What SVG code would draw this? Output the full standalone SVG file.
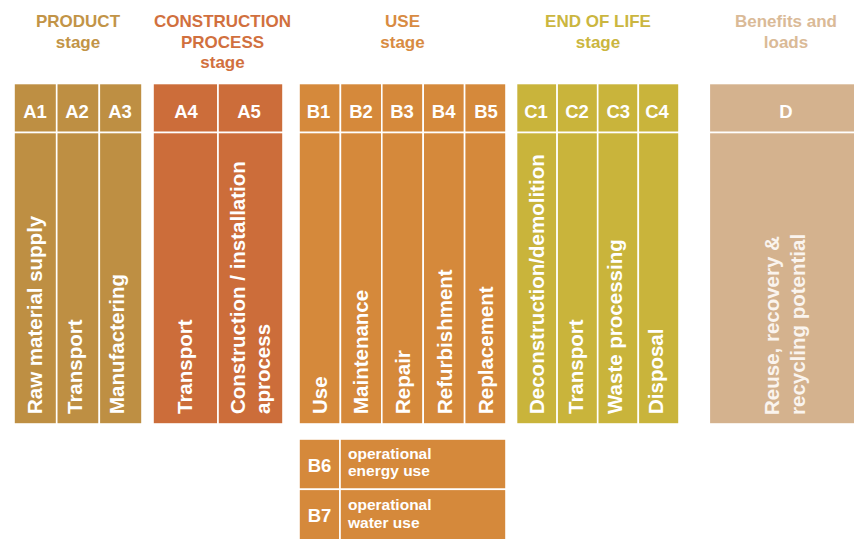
<svg xmlns="http://www.w3.org/2000/svg" width="854" height="539" viewBox="0 0 854 539">
<style>
text{font-family:"Liberation Sans",Arial,sans-serif;font-weight:bold}
.c{stroke:#fff;stroke-width:1.6}
.pa{fill:#BE8F43}.pb{fill:#CC6D3A}.pc{fill:#D5893B}.pd{fill:#C9B43B}.pe{fill:#D4B28E}
.t{font-size:17px;text-anchor:middle}
.h{font-size:18.5px;fill:#fff;text-anchor:middle}
.v{font-size:20.5px;fill:#fff}
.s{font-size:15.5px;fill:#fff}
</style>
<rect width="854" height="539" fill="#fff"/>
<g id="titles">
<text class="t" x="78" y="27" fill="#C29447">PRODUCT<tspan x="78" y="47.5">stage</tspan></text>
<text class="t" x="222.5" y="27" fill="#D1703E">CONSTRUCTION<tspan x="222.5" y="47.5">PROCESS</tspan><tspan x="222.5" y="68">stage</tspan></text>
<text class="t" x="402.5" y="27" fill="#D88B42">USE<tspan x="402.5" y="47.5">stage</tspan></text>
<text class="t" x="598" y="27" fill="#CBB63F">END OF LIFE<tspan x="598" y="47.5">stage</tspan></text>
<text class="t" x="786" y="27" fill="#DABA97">Benefits and<tspan x="786" y="47.5">loads</tspan></text>
</g>
<g id="A1"><rect class="c pa" x="14" y="83.5" width="42.7" height="49"/><rect class="c pa" x="14" y="132.5" width="42.7" height="291.5"/>
<text class="h" x="35" y="117.5">A1</text><text class="v" transform="translate(42.3,414) rotate(-90)">Raw material supply</text></g>
<g id="A2"><rect class="c pa" x="56.7" y="83.5" width="42.6" height="49"/><rect class="c pa" x="56.7" y="132.5" width="42.6" height="291.5"/>
<text class="h" x="77" y="117.5">A2</text><text class="v" transform="translate(81.7,414) rotate(-90)">Transport</text></g>
<g id="A3"><rect class="c pa" x="99.3" y="83.5" width="42.7" height="49"/><rect class="c pa" x="99.3" y="132.5" width="42.7" height="291.5"/>
<text class="h" x="120" y="117.5">A3</text><text class="v" transform="translate(124.3,414) rotate(-90)">Manufactering</text></g>
<g id="A4"><rect class="c pb" x="153" y="83.5" width="65" height="49"/><rect class="c pb" x="153" y="132.5" width="65" height="291.5"/>
<text class="h" x="186" y="117.5">A4</text><text class="v" transform="translate(191.7,414) rotate(-90)">Transport</text></g>
<g id="A5"><rect class="c pb" x="218" y="83.5" width="65" height="49"/><rect class="c pb" x="218" y="132.5" width="65" height="291.5"/>
<text class="h" x="249" y="117.5">A5</text><text class="v" transform="translate(245,414) rotate(-90)">Construction / installation<tspan x="0" dy="25">aprocess</tspan></text></g>
<g id="B1"><rect class="c pc" x="299" y="83.5" width="41.4" height="49"/><rect class="c pc" x="299" y="132.5" width="41.4" height="291.5"/>
<text class="h" x="318.5" y="117.5">B1</text><text class="v" transform="translate(326.7,414) rotate(-90)">Use</text></g>
<g id="B2"><rect class="c pc" x="340.4" y="83.5" width="41.4" height="49"/><rect class="c pc" x="340.4" y="132.5" width="41.4" height="291.5"/>
<text class="h" x="361" y="117.5">B2</text><text class="v" transform="translate(368.3,414) rotate(-90)">Maintenance</text></g>
<g id="B3"><rect class="c pc" x="381.8" y="83.5" width="41.4" height="49"/><rect class="c pc" x="381.8" y="132.5" width="41.4" height="291.5"/>
<text class="h" x="402" y="117.5">B3</text><text class="v" transform="translate(410,414) rotate(-90)">Repair</text></g>
<g id="B4"><rect class="c pc" x="423.2" y="83.5" width="41.4" height="49"/><rect class="c pc" x="423.2" y="132.5" width="41.4" height="291.5"/>
<text class="h" x="443.7" y="117.5">B4</text><text class="v" transform="translate(451.7,414) rotate(-90)">Refurbishment</text></g>
<g id="B5"><rect class="c pc" x="464.6" y="83.5" width="41.4" height="49"/><rect class="c pc" x="464.6" y="132.5" width="41.4" height="291.5"/>
<text class="h" x="486" y="117.5">B5</text><text class="v" transform="translate(493,414) rotate(-90)">Replacement</text></g>
<g id="C1"><rect class="c pd" x="516.5" y="83.5" width="40.6" height="49"/><rect class="c pd" x="516.5" y="132.5" width="40.6" height="291.5"/>
<text class="h" x="536" y="117.5">C1</text><text class="v" transform="translate(544.3,414) rotate(-90)">Deconstruction/demolition</text></g>
<g id="C2"><rect class="c pd" x="557.1" y="83.5" width="40.6" height="49"/><rect class="c pd" x="557.1" y="132.5" width="40.6" height="291.5"/>
<text class="h" x="577" y="117.5">C2</text><text class="v" transform="translate(583.3,414) rotate(-90)">Transport</text></g>
<g id="C3"><rect class="c pd" x="597.7" y="83.5" width="40.6" height="49"/><rect class="c pd" x="597.7" y="132.5" width="40.6" height="291.5"/>
<text class="h" x="618.3" y="117.5">C3</text><text class="v" transform="translate(622.3,414) rotate(-90)">Waste processing</text></g>
<g id="C4"><rect class="c pd" x="638.3" y="83.5" width="40.7" height="49"/><rect class="c pd" x="638.3" y="132.5" width="40.7" height="291.5"/>
<text class="h" x="657" y="117.5">C4</text><text class="v" transform="translate(663.3,414) rotate(-90)">Disposal</text></g>
<g id="D"><rect class="c pe" x="709.3" y="83.5" width="154" height="49"/><rect class="c pe" x="709.3" y="132.5" width="154" height="291.5"/>
<text class="h" x="786" y="117.5">D</text><text class="v" fill="#FAF4EE" style="fill:#FAF4EE" transform="translate(779,415) rotate(-90)">Reuse, recovery &amp;<tspan x="0" dy="26">recycling potential</tspan></text></g>
<g id="B6"><rect class="c pc" x="299" y="439" width="41" height="50.3"/><rect class="c pc" x="340" y="439" width="166" height="50.3"/>
<text class="h" x="319.5" y="472">B6</text><text class="s" x="348" y="458.5">operational<tspan x="348" y="476">energy use</tspan></text></g>
<g id="B7"><rect class="c pc" x="299" y="489.3" width="41" height="60"/><rect class="c pc" x="340" y="489.3" width="166" height="60"/>
<text class="h" x="319.5" y="522">B7</text><text class="s" x="348" y="510">operational<tspan x="348" y="527.5">water use</tspan></text></g>
</svg>
